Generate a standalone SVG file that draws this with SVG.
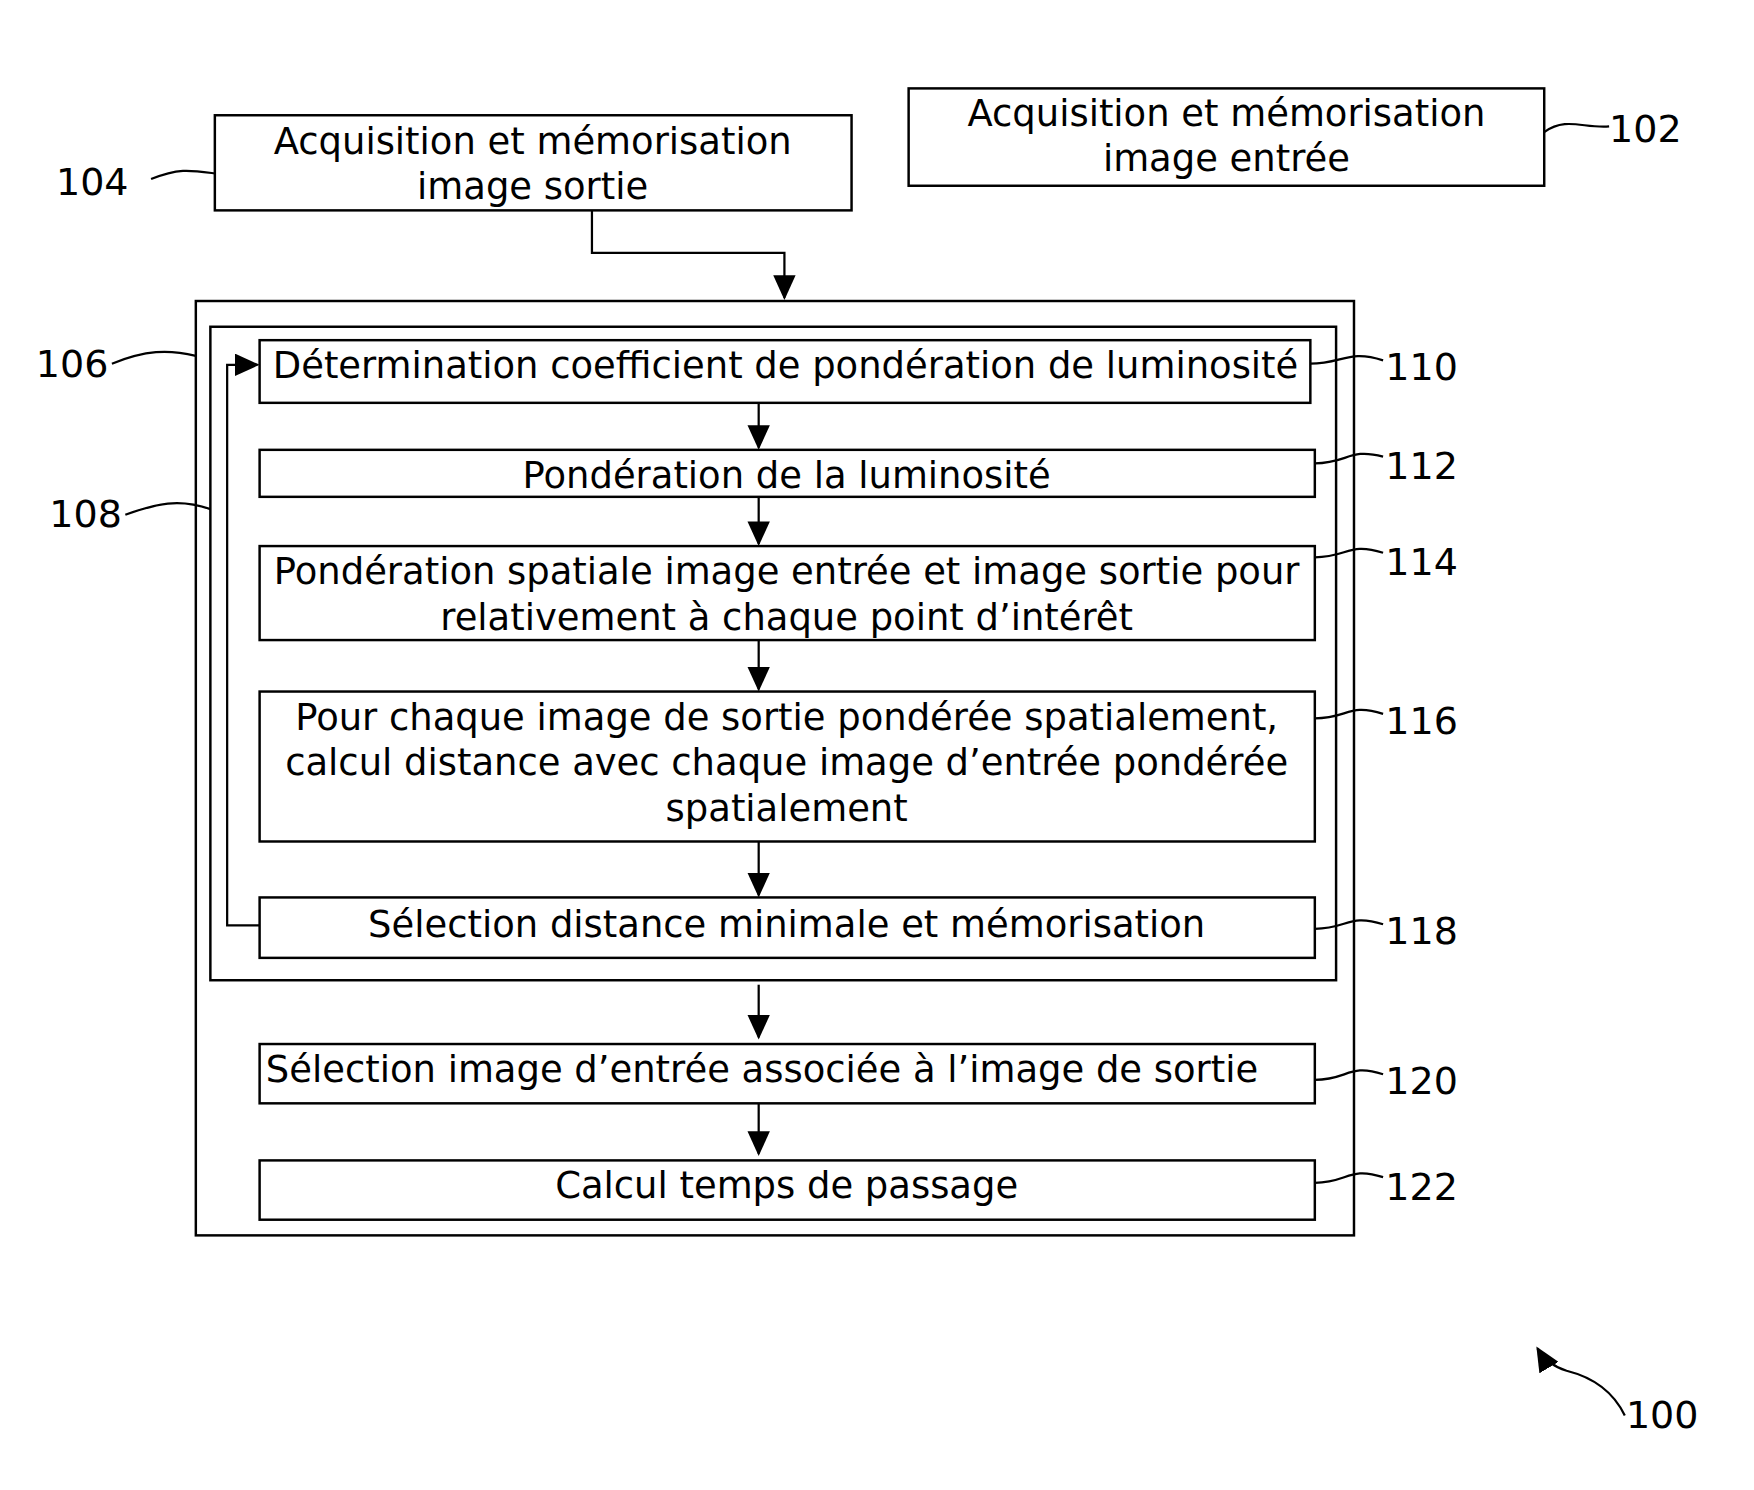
<svg xmlns="http://www.w3.org/2000/svg" width="1754" height="1490" viewBox="0 0 1754 1490">
<defs>
<style>
.b{fill:none;stroke:#000;stroke-width:2.2}
.t{font-family:"DejaVu Sans",sans-serif;font-size:33px;text-anchor:middle;fill:#000}
.l{font-family:"DejaVu Sans",sans-serif;font-size:34px;fill:#000}
.c{fill:none;stroke:#000;stroke-width:2}
</style>
<marker id="A" markerWidth="22" markerHeight="20" refX="20" refY="10" orient="auto" markerUnits="userSpaceOnUse"><path d="M0,0L22,10L0,20z"/></marker>
</defs>
<rect width="1754" height="1490" fill="#fff"/>
<g transform="scale(1.119)">
<g id="n104"><rect class="b" x="192" y="103" width="569" height="85"/><text class="t" x="476" y="138">Acquisition et mémorisation</text><text class="t" x="476" y="178">image sortie</text></g>
<g id="n102"><rect class="b" x="812" y="79" width="568" height="87"/><text class="t" x="1096" y="113">Acquisition et mémorisation</text><text class="t" x="1096" y="153">image entrée</text></g>
<g id="n106"><rect class="b" x="175" y="269" width="1035" height="835"/></g>
<g id="n108"><rect class="b" x="188" y="292" width="1006" height="584"/></g>
<g id="n110"><rect class="b" x="232" y="304" width="939" height="56"/><text class="t" x="702" y="338">Détermination coefficient de pondération de luminosité</text></g>
<g id="n112"><rect class="b" x="232" y="402" width="943" height="42"/><text class="t" x="703" y="436">Pondération de la luminosité</text></g>
<g id="n114"><rect class="b" x="232" y="488" width="943" height="84"/><text class="t" x="703" y="522">Pondération spatiale image entrée et image sortie pour</text><text class="t" x="703" y="563">relativement à chaque point d’intérêt</text></g>
<g id="n116"><rect class="b" x="232" y="618" width="943" height="134"/><text class="t" x="703" y="652">Pour chaque image de sortie pondérée spatialement,</text><text class="t" x="703" y="693">calcul distance avec chaque image d’entrée pondérée</text><text class="t" x="703" y="734">spatialement</text></g>
<g id="n118"><rect class="b" x="232" y="802" width="943" height="54"/><text class="t" x="703" y="837">Sélection distance minimale et mémorisation</text></g>
<g id="n120"><rect class="b" x="232" y="933" width="943" height="53"/><text class="t" x="681" y="967">Sélection image d’entrée associée à l’image de sortie</text></g>
<g id="n122"><rect class="b" x="232" y="1037" width="943" height="53"/><text class="t" x="703" y="1071">Calcul temps de passage</text></g>
<g id="labels">
<text class="l" x="50" y="174">104</text>
<text class="l" x="1438" y="127">102</text>
<text class="l" x="32" y="337">106</text>
<text class="l" x="44" y="471">108</text>
<text class="l" x="1238" y="340">110</text>
<text class="l" x="1238" y="428">112</text>
<text class="l" x="1238" y="514">114</text>
<text class="l" x="1238" y="656">116</text>
<text class="l" x="1238" y="844">118</text>
<text class="l" x="1238" y="978">120</text>
<text class="l" x="1238" y="1072">122</text>
<text class="l" x="1453" y="1276">100</text>
</g>
<g id="connectors">
<path class="c" d="M529,188V226H701V266" marker-end="url(#A)"/>
<path class="c" d="M232,827H203V326H230" marker-end="url(#A)"/>
<path class="c" d="M678,360V400" marker-end="url(#A)"/>
<path class="c" d="M678,444V486" marker-end="url(#A)"/>
<path class="c" d="M678,572V616" marker-end="url(#A)"/>
<path class="c" d="M678,752V800" marker-end="url(#A)"/>
<path class="c" d="M678,880V927" marker-end="url(#A)"/>
<path class="c" d="M678,986V1031" marker-end="url(#A)"/>
<path class="c" d="M135,160C160,150 170,152 192,155"/>
<path class="c" d="M1380,118C1400,104 1415,115 1438,113"/>
<path class="c" d="M100,325C130,313 150,312 175,318"/>
<path class="c" d="M112,460C140,450 160,445 188,455"/>
<path class="c" d="M1171,325C1200,325 1205,312 1236,322"/>
<path class="c" d="M1175,414C1205,414 1205,400 1236,408"/>
<path class="c" d="M1175,498C1205,498 1205,484 1236,494"/>
<path class="c" d="M1175,642C1205,642 1205,628 1236,638"/>
<path class="c" d="M1175,830C1205,830 1205,816 1236,826"/>
<path class="c" d="M1175,965C1205,965 1205,950 1236,960"/>
<path class="c" d="M1175,1057C1205,1057 1205,1042 1236,1052"/>
<path class="c" d="M1452,1265C1440,1240 1420,1230 1400,1225C1390,1222 1380,1215 1374,1205" marker-end="url(#A)"/>
</g>
</g>
</svg>
